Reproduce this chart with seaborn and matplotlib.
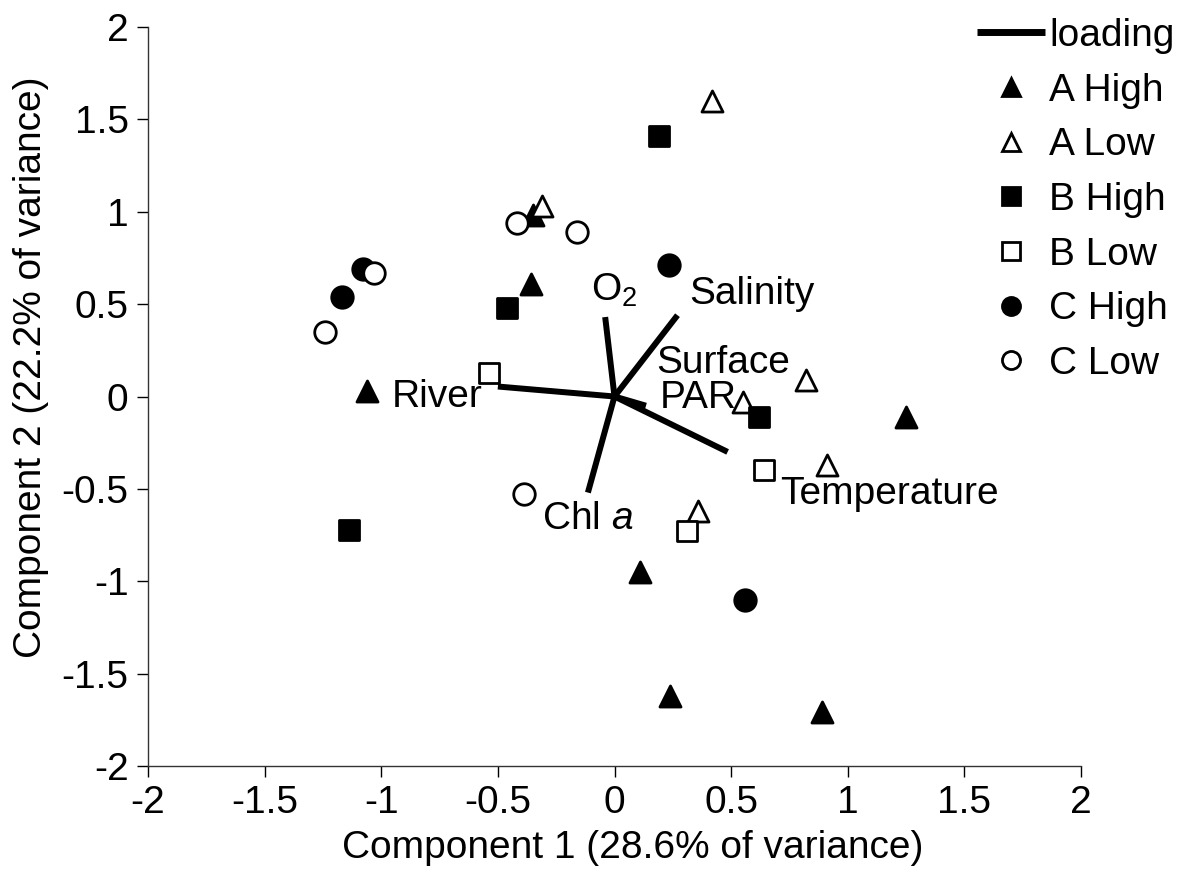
import matplotlib
matplotlib.use("Agg")
import matplotlib.pyplot as plt
from matplotlib.lines import Line2D
import seaborn as sns
import pandas as pd

# ---- data ----
a_high_x = [-0.35, -0.36, -1.06, 1.25, 0.11, 0.24, 0.89]
a_high_y = [0.98, 0.61, 0.03, -0.11, -0.95, -1.62, -1.71]
a_low_x = [0.42, -0.31, 0.82, 0.55, 0.91, 0.36]
a_low_y = [1.60, 1.03, 0.09, -0.03, -0.37, -0.62]
b_high_x = [0.19, -0.46, 0.62, -1.14]
b_high_y = [1.41, 0.48, -0.11, -0.72]
b_low_x = [-0.54, 0.64, 0.31]
b_low_y = [0.125, -0.40, -0.73]
c_high_x = [-1.08, -1.17, 0.235, 0.56]
c_high_y = [0.69, 0.54, 0.71, -1.10]
c_low_x = [-1.03, -1.24, -0.42, -0.16, -0.39]
c_low_y = [0.67, 0.35, 0.94, 0.89, -0.53]

loading_names = ["O2", "Salinity", "River", "Temperature", "Chl a", "Surface PAR"]
loading_x = [-0.04, 0.27, -0.50, 0.485, -0.114, 0.135]
loading_y = [0.43, 0.44, 0.054, -0.30, -0.52, -0.05]

label_texts = ["O$_2$", "Salinity", "River", "Temperature", "Chl $\\mathit{a}$", "Surface", "PAR"]
label_x = [-0.10, 0.32, -0.955, 0.71, -0.31, 0.18, 0.195]
label_y = [0.575, 0.555, 0.0, -0.53, -0.665, 0.18, -0.01]

x_ticks = [-2, -1.5, -1, -0.5, 0, 0.5, 1, 1.5, 2]
x_tick_labels = ["-2", "-1.5", "-1", "-0.5", "0", "0.5", "1", "1.5", "2"]
y_ticks = [-2, -1.5, -1, -0.5, 0, 0.5, 1, 1.5, 2]
y_tick_labels = ["-2", "-1.5", "-1", "-0.5", "0", "0.5", "1", "1.5", "2"]

groups = ["A High", "A Low", "B High", "B Low", "C High", "C Low"]

# ---- style ----
sns.set_theme(style="white")
plt.rcParams["font.family"] = ["Liberation Sans", "DejaVu Sans"]
plt.rcParams["mathtext.fontset"] = "custom"
plt.rcParams["mathtext.rm"] = "Liberation Sans"
plt.rcParams["mathtext.it"] = "Liberation Sans:italic"
plt.rcParams["mathtext.default"] = "regular"
plt.rcParams["axes.unicode_minus"] = False
plt.rcParams["text.color"] = "black"
plt.rcParams["axes.labelcolor"] = "black"

FS = 28

fig = plt.figure(figsize=(11.8, 8.8), dpi=100)
ax = fig.add_axes([148 / 1180, 1 - 766 / 880, (1081 - 148) / 1180, (766 - 27) / 880])

group_data = {
    "A High": (a_high_x, a_high_y, "^", "black"),
    "A Low": (a_low_x, a_low_y, "^", "white"),
    "B High": (b_high_x, b_high_y, "s", "black"),
    "B Low": (b_low_x, b_low_y, "s", "white"),
    "C High": (c_high_x, c_high_y, "o", "black"),
    "C Low": (c_low_x, c_low_y, "o", "white"),
}
sizes = {"^": 230, "s": 190, "o": 240}

# loading lines
for lx, ly in zip(loading_x, loading_y):
    ax.plot([0, lx], [0, ly], color="black", lw=4.3, solid_capstyle="butt", zorder=2)

for g in groups:
    xs, ys, m, fc = group_data[g]
    df = pd.DataFrame({"x": xs, "y": ys})
    sns.scatterplot(data=df, x="x", y="y", marker=m, s=sizes[m], color=fc,
                    edgecolor="black", linewidth=2.0, ax=ax, zorder=3, legend=False)

for t, tx, ty in zip(label_texts, label_x, label_y):
    ax.text(tx, ty, t, fontsize=FS, ha="left", va="center", color="black", zorder=4)

ax.set_xlim(-2, 2)
ax.set_ylim(-2, 2)
ax.set_xticks(x_ticks)
ax.set_xticklabels(x_tick_labels)
ax.set_yticks(y_ticks)
ax.set_yticklabels(y_tick_labels)
ax.tick_params(axis="both", labelsize=FS, length=8, width=1, direction="out",
               colors="black", pad=6, bottom=True, left=True)
for side in ["top", "right"]:
    ax.spines[side].set_visible(False)
for side in ["left", "bottom"]:
    ax.spines[side].set_color("#333333")
    ax.spines[side].set_linewidth(1.0)
ax.set_xlabel("Component 1 (28.6% of variance)", fontsize=FS, color="black")
ax.set_ylabel("Component 2 (22.2% of variance)", fontsize=FS, color="black")
ax.xaxis.set_label_coords(0.52, -0.086)
ax.yaxis.set_label_coords(-0.106, 0.54)

# legend
handles = [Line2D([0], [0], color="black", lw=5, solid_capstyle="butt")]
for g in groups:
    xs, ys, m, fc = group_data[g]
    handles.append(Line2D([0], [0], linestyle="none", marker=m, markersize=13,
                          markerfacecolor=fc, markeredgecolor="black", markeredgewidth=2))
labels = ["loading"] + groups
fig.legend(handles, labels, loc="upper left", bbox_to_anchor=(977 / 1180, 1 - 18 / 880),
           frameon=False, fontsize=FS, handlelength=1.75, handletextpad=0.1,
           labelspacing=0.48, borderpad=0, borderaxespad=0)

fig.savefig("out.png", dpi=100)
